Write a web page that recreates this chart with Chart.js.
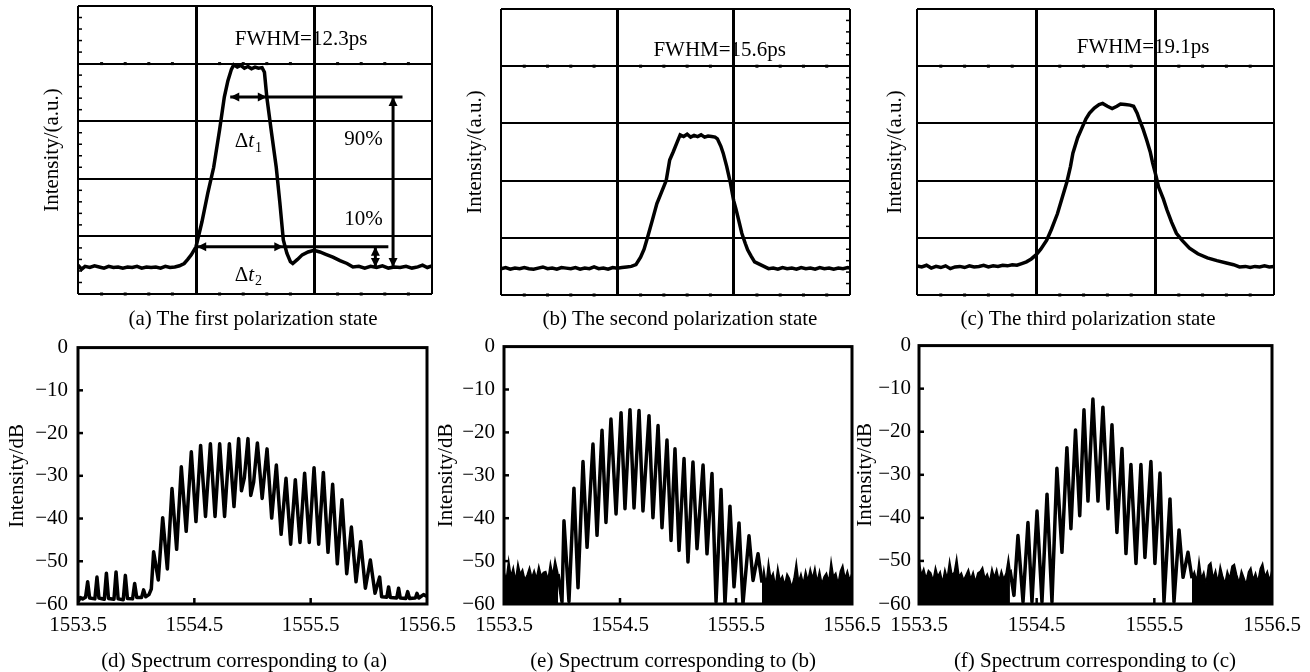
<!DOCTYPE html>
<html>
<head>
<meta charset="utf-8">
<script src="https://cdn.jsdelivr.net/npm/chart.js@4.4.1/dist/chart.umd.min.js"></script>
<style>
  body { margin: 0; background: #fff; }
  #page { position: relative; width: 1310px; height: 672px; overflow: hidden; font-family: "Liberation Serif", "Times New Roman", serif; }
  canvas { position: absolute; }
  .cap { position: absolute; transform: translate(-50%, -50%); white-space: nowrap; font-size: 21px; color: #000; }
</style>
</head>
<body>
<div id="page">
  <canvas id="pa" width="440" height="320" style="left:0px;top:0px"></canvas>
  <canvas id="pb" width="430" height="320" style="left:440px;top:0px"></canvas>
  <canvas id="pc" width="440" height="320" style="left:870px;top:0px"></canvas>
  <canvas id="sd" width="470" height="347" style="left:0px;top:325px"></canvas>
  <canvas id="se" width="460" height="347" style="left:430px;top:325px"></canvas>
  <canvas id="sf" width="460" height="347" style="left:850px;top:325px"></canvas>
  <div class="cap" style="left:253px;top:318px">(a) The first polarization state</div>
  <div class="cap" style="left:680px;top:318px">(b) The second polarization state</div>
  <div class="cap" style="left:1088px;top:318px">(c) The third polarization state</div>
  <div class="cap" style="left:244px;top:660px">(d) Spectrum corresponding to (a)</div>
  <div class="cap" style="left:673px;top:660px">(e) Spectrum corresponding to (b)</div>
  <div class="cap" style="left:1095px;top:660px">(f) Spectrum corresponding to (c)</div>
</div>
<script>
// pulse traces, x in screen divisions (0-3), y in divisions (0-5)
const pulseAX = [0,0.03,0.06,0.1,0.14,0.18,0.22,0.26,0.3,0.34,0.38,0.42,0.46,0.5,0.54,0.58,0.62,0.66,0.7,0.74,
  0.78,0.82,0.86,0.9,0.93,0.96,1.0,1.05,1.1,1.15,1.2,1.24,1.27,1.3,1.32,1.35,1.38,1.41,1.44,1.47,
  1.5,1.53,1.56,1.58,1.6,1.64,1.68,1.71,1.74,1.77,1.8,1.82,1.86,1.9,1.95,2.0,2.05,2.1,2.16,2.22,
  2.28,2.33,2.38,2.43,2.48,2.53,2.58,2.63,2.68,2.73,2.78,2.83,2.88,2.92,2.96,3.0];
const pulseAY = [0.50,0.43,0.48,0.46,0.49,0.47,0.45,0.48,0.46,0.47,0.45,0.47,0.46,0.48,0.45,0.47,0.46,0.47,0.45,0.48,
  0.46,0.47,0.49,0.53,0.6,0.68,0.82,1.25,1.75,2.2,2.85,3.42,3.7,3.9,3.98,3.94,3.97,3.92,3.95,3.91,
  3.94,3.92,3.93,3.85,3.42,2.8,2.2,1.6,0.94,0.71,0.56,0.53,0.6,0.68,0.73,0.76,0.73,0.69,0.64,0.58,
  0.53,0.47,0.48,0.45,0.48,0.46,0.49,0.45,0.47,0.46,0.48,0.45,0.47,0.5,0.46,0.49];

const pulseBX = [0,0.04,0.08,0.12,0.16,0.2,0.24,0.28,0.32,0.36,0.4,0.44,0.48,0.52,0.56,0.6,0.64,0.68,0.72,0.76,
  0.8,0.84,0.88,0.92,0.96,1.0,1.04,1.08,1.12,1.16,1.2,1.23,1.26,1.3,1.34,1.38,1.42,1.45,1.48,1.51,
  1.54,1.57,1.6,1.63,1.66,1.69,1.72,1.75,1.78,1.81,1.84,1.86,1.89,1.91,1.94,1.97,2.0,2.02,2.05,2.07,
  2.1,2.12,2.15,2.18,2.22,2.26,2.3,2.34,2.38,2.42,2.46,2.5,2.54,2.58,2.62,2.66,2.7,2.74,2.78,2.82,
  2.86,2.9,2.94,2.98,3.0];
const pulseBY = [0.46,0.48,0.45,0.47,0.46,0.48,0.46,0.45,0.47,0.49,0.46,0.47,0.45,0.48,0.47,0.46,0.48,0.45,0.47,0.46,
  0.49,0.46,0.47,0.45,0.48,0.47,0.48,0.49,0.5,0.53,0.66,0.8,1.01,1.3,1.6,1.8,2.0,2.36,2.5,2.65,
  2.8,2.77,2.81,2.76,2.79,2.77,2.8,2.76,2.78,2.77,2.76,2.73,2.6,2.48,2.25,1.98,1.65,1.5,1.25,1.08,
  0.9,0.79,0.68,0.58,0.54,0.5,0.46,0.47,0.45,0.48,0.46,0.47,0.45,0.48,0.46,0.47,0.45,0.48,0.46,0.47,
  0.45,0.47,0.46,0.48,0.47];

const pulseCX = [0,0.04,0.08,0.12,0.16,0.2,0.24,0.28,0.32,0.36,0.4,0.44,0.48,0.52,0.56,0.6,0.64,0.68,0.72,0.76,
  0.8,0.84,0.88,0.92,0.96,1.0,1.04,1.09,1.13,1.18,1.22,1.26,1.29,1.31,1.35,1.39,1.42,1.45,1.49,1.53,
  1.56,1.6,1.64,1.68,1.71,1.75,1.79,1.82,1.85,1.87,1.9,1.93,1.96,1.98,2.01,2.03,2.07,2.1,2.14,2.18,
  2.23,2.29,2.36,2.44,2.52,2.6,2.66,2.71,2.76,2.8,2.84,2.88,2.92,2.96,3.0];
const pulseCY = [0.51,0.49,0.52,0.47,0.5,0.48,0.51,0.46,0.49,0.5,0.48,0.51,0.49,0.5,0.52,0.49,0.51,0.5,0.52,0.51,
  0.53,0.52,0.55,0.58,0.63,0.7,0.8,0.96,1.15,1.42,1.7,1.98,2.25,2.48,2.75,2.94,3.08,3.18,3.27,3.33,
  3.35,3.3,3.26,3.3,3.34,3.33,3.32,3.3,3.18,3.06,2.9,2.71,2.5,2.31,2.07,1.89,1.68,1.49,1.27,1.08,
  0.95,0.82,0.72,0.65,0.6,0.56,0.53,0.49,0.5,0.48,0.5,0.49,0.51,0.49,0.5];

// spectra: wavelength (nm) and level (dB)
const specDWl = [1553.50,1553.52,1553.54,1553.565,1553.583,1553.60,1553.645,1553.663,1553.68,1553.726,
  1553.744,1553.762,1553.809,1553.827,1553.845,1553.889,1553.907,1553.925,1553.969,1553.987,
  1554.005,1554.046,1554.064,1554.082,1554.11,1554.13,
  1554.150,1554.19,1554.228,1554.268,1554.308,1554.348,1554.388,1554.43,1554.474,1554.514,
  1554.554,1554.596,1554.638,1554.678,1554.718,1554.76,1554.801,1554.841,1554.881,1554.905,
  1554.93,1554.961,1554.985,1555.01,1555.042,1555.083,1555.125,1555.165,1555.205,1555.246,
  1555.288,1555.328,1555.368,1555.408,1555.448,1555.488,1555.529,1555.569,1555.609,1555.649,
  1555.689,1555.729,1555.769,1555.81,1555.850,1555.89,1555.930,1555.97,1556.013,1556.053,
  1556.093,1556.11,1556.155,1556.170,1556.185,1556.24,1556.256,1556.27,1556.318,1556.334,
  1556.35,1556.40,1556.414,1556.43,1556.47,1556.5];
const specDDb = [-59.5,-58.5,-58.8,-58.4,-54.8,-58.6,-58.8,-53.7,-58.6,-58.9,
  -52.8,-58.7,-58.9,-52.5,-58.8,-59.0,-53.3,-58.7,-58.8,-55.2,
  -58.5,-58.5,-56.7,-58.3,-57.8,-56.5,
  -47.8,-54.4,-39.8,-51.8,-33.0,-47.2,-27.9,-43.0,-24.4,-40.7,
  -22.9,-39.5,-22.5,-39.5,-22.5,-39.5,-22.5,-37.2,-21.3,-33.5,
  -30.5,-21.3,-34.6,-31.5,-22.3,-35.3,-23.7,-39.9,-27.5,-43.7,
  -30.6,-46.0,-30.9,-45.6,-29.4,-45.6,-28.1,-46.0,-29.2,-47.9,
  -32.0,-50.6,-35.6,-52.9,-42.0,-54.8,-45.4,-56.3,-49.7,-57.5,
  -53.7,-58.3,-58.4,-56.0,-58.5,-58.6,-56.3,-58.6,-58.7,-57.1,
  -58.7,-58.6,-57.5,-58.6,-57.8,-58.2];

const specEWl = [1553.966,1554.0,1554.017,1554.06,1554.103,1554.138,1554.181,1554.216,1554.267,1554.302,
  1554.345,1554.379,1554.422,1554.466,1554.509,1554.543,1554.586,1554.621,1554.664,1554.698,
  1554.75,1554.784,1554.828,1554.862,1554.905,1554.94,1554.974,1555.009,1555.052,1555.086,
  1555.129,1555.164,1555.216,1555.25,1555.293,1555.328,1555.371,1555.405,1555.448,1555.483,
  1555.526,1555.56,1555.612,1555.647,1555.69,1555.724];
const specEDb = [-53,-59.5,-40.6,-59.4,-33.0,-56.2,-26.8,-46.8,-22.7,-44.0,
  -19.5,-41.0,-16.9,-39.0,-15.4,-37.8,-14.7,-37.6,-14.9,-38.3,
  -16.1,-39.9,-18.4,-42.2,-21.8,-45.2,-23.8,-47.5,-26.1,-50.2,
  -26.9,-47.1,-27.6,-48.3,-29.6,-59.5,-33.3,-60,-37.2,-56,
  -41.1,-60,-44.1,-54.5,-48.3,-55];
const noiseELeftWl = [1553.50,1553.52,1553.54,1553.56,1553.58,1553.60,1553.62,1553.64,1553.66,1553.68,
  1553.70,1553.72,1553.74,1553.76,1553.78,1553.80,1553.82,1553.84,1553.86,1553.88,
  1553.90,1553.92,1553.94,1553.966];
const noiseELeftDb = [-52.5,-54.2,-49.8,-53.5,-51.5,-54.5,-50.5,-53,-52,-54.3,
  -53.2,-51.5,-53.8,-52.2,-54,-51.2,-53.4,-52.6,-52.4,-54.2,
  -50.5,-53.2,-49.7,-53];
const noiseERightWl = [1555.724,1555.74,1555.76,1555.78,1555.80,1555.82,1555.84,1555.86,1555.88,1555.90,
  1555.92,1555.94,1555.96,1555.98,1556.00,1556.02,1556.04,1556.06,1556.08,1556.10,
  1556.12,1556.14,1556.16,1556.18,1556.20,1556.22,1556.24,1556.26,1556.28,1556.30,
  1556.32,1556.34,1556.36,1556.38,1556.40,1556.42,1556.44,1556.46,1556.48,1556.50];
const noiseERightDb = [-55,-52,-55.5,-50.3,-54,-52.8,-55.8,-51.5,-54.5,-53.5,
  -55.5,-53,-54,-56,-54,-50.3,-54.8,-53,-55.2,-52.3,
  -54.5,-51.8,-54,-51.6,-54.8,-52.3,-55.2,-53.6,-52.8,-54.8,
  -50,-53.6,-52.8,-55.2,-52.3,-51,-54,-52.3,-54.4,-52.8];

const specFWl = [1554.273,1554.307,1554.341,1554.384,1554.426,1554.46,1554.503,1554.545,1554.588,1554.63,
  1554.672,1554.715,1554.757,1554.791,1554.83,1554.866,1554.902,1554.936,1554.978,1555.021,
  1555.063,1555.106,1555.14,1555.182,1555.225,1555.259,1555.301,1555.344,1555.386,1555.42,
  1555.471,1555.505,1555.548,1555.582,1555.633,1555.667,1555.71,1555.744,1555.786,1555.82];
const specFDb = [-52,-58,-44.1,-59.5,-41.1,-59.5,-38.4,-59.5,-34.5,-59.5,
  -28.5,-48.0,-23.7,-42.5,-19.6,-39.5,-14.9,-36.1,-12.4,-36.1,
  -14.3,-37.9,-18.4,-43.4,-23.9,-48.3,-27.6,-50.6,-27.6,-49.2,
  -26.9,-50.6,-29.6,-59.5,-35.6,-59.5,-42.8,-53.8,-48.0,-54];
const noiseFLeftWl = [1553.50,1553.52,1553.54,1553.56,1553.58,1553.60,1553.62,1553.64,1553.66,1553.68,
  1553.70,1553.72,1553.74,1553.76,1553.78,1553.80,1553.82,1553.84,1553.86,1553.88,
  1553.90,1553.92,1553.94,1553.96,1553.98,1554.00,1554.02,1554.04,1554.06,1554.08,
  1554.10,1554.12,1554.14,1554.16,1554.18,1554.20,1554.22,1554.24,1554.26,1554.273];
const noiseFLeftDb = [-49.8,-53.2,-51.8,-54,-52.2,-52.8,-54.5,-51.5,-53.6,-52.5,
  -55,-52,-54,-50,-53.2,-52.6,-49.3,-53.6,-52.8,-54.4,
  -53.2,-52,-54.2,-52.6,-54.8,-52.8,-52.4,-51.5,-54,-53,
  -54.8,-51.8,-53.8,-52,-54.5,-52.3,-54.2,-52.8,-49.3,-52];
const noiseFRightWl = [1555.82,1555.84,1555.86,1555.88,1555.90,1555.92,1555.94,1555.96,1555.98,1556.00,
  1556.02,1556.04,1556.06,1556.08,1556.10,1556.12,1556.14,1556.16,1556.18,1556.20,
  1556.22,1556.24,1556.26,1556.28,1556.30,1556.32,1556.34,1556.36,1556.38,1556.40,
  1556.42,1556.44,1556.46,1556.48,1556.50];
const noiseFRightDb = [-54,-52.5,-54.6,-49.9,-54,-52.6,-55.2,-51,-50.4,-54,
  -52.2,-54.8,-51.2,-53.5,-55.2,-52.4,-54,-51.2,-50.8,-53.2,
  -55,-52.3,-53.8,-55.4,-52.6,-51.6,-54.3,-52.8,-54.8,-51.8,
  -50.6,-53.6,-52.4,-54.5,-52];

const yTicksDb = [-60, -50, -40, -30, -20, -10, 0];
const xTicksNm = [1553.5, 1554.5, 1555.5, 1556.5];

const SERIF = '"Liberation Serif", "Times New Roman", serif';
Chart.defaults.font.family = SERIF;
Chart.defaults.font.size = 21;
Chart.defaults.color = '#000';

function pts(xs, ys) {
  return xs.map((x, i) => ({ x: x, y: ys[i] }));
}

function line(ctx, x1, y1, x2, y2) {
  ctx.beginPath(); ctx.moveTo(x1, y1); ctx.lineTo(x2, y2); ctx.stroke();
}

function head(ctx, x, y, dir) {
  const L = 9, H = 4.5;
  ctx.beginPath();
  ctx.moveTo(x, y);
  if (dir === 'l') { ctx.lineTo(x + L, y - H); ctx.lineTo(x + L, y + H); }
  if (dir === 'r') { ctx.lineTo(x - L, y - H); ctx.lineTo(x - L, y + H); }
  if (dir === 'u') { ctx.lineTo(x - H, y + L); ctx.lineTo(x + H, y + L); }
  if (dir === 'd') { ctx.lineTo(x - H, y - L); ctx.lineTo(x + H, y - L); }
  ctx.closePath(); ctx.fill();
}

function deltaT(ctx, x, y, sub) {
  ctx.textBaseline = 'middle'; ctx.textAlign = 'left';
  ctx.font = '21px ' + SERIF;
  const w1 = ctx.measureText('\u0394').width;
  ctx.font = 'italic 21px ' + SERIF;
  const w2 = ctx.measureText('t').width;
  ctx.font = '14px ' + SERIF;
  const w3 = ctx.measureText(sub).width;
  const x0 = x - (w1 + w2 + w3) / 2;
  ctx.font = '21px ' + SERIF; ctx.fillText('\u0394', x0, y);
  ctx.font = 'italic 21px ' + SERIF; ctx.fillText('t', x0 + w1, y);
  ctx.font = '14px ' + SERIF; ctx.fillText(sub, x0 + w1 + w2 + 1, y + 6);
}

function annotateA(chart) {
  const { ctx, scales: { x, y } } = chart;
  const X = v => x.getPixelForValue(v), Y = v => y.getPixelForValue(v);
  ctx.save();
  ctx.strokeStyle = '#000'; ctx.fillStyle = '#000'; ctx.lineWidth = 3;
  // delta t1 and 90% level
  line(ctx, X(1.29), Y(3.42), X(2.75), Y(3.42));
  head(ctx, X(1.29), Y(3.42), 'l'); head(ctx, X(1.60), Y(3.42), 'r');
  line(ctx, X(2.67), Y(3.42), X(2.67), Y(0.47));
  head(ctx, X(2.67), Y(3.42), 'u'); head(ctx, X(2.67), Y(0.47), 'd');
  // delta t2 and 10% level
  line(ctx, X(1.01), Y(0.82), X(2.63), Y(0.82));
  head(ctx, X(1.01), Y(0.82), 'l'); head(ctx, X(1.74), Y(0.82), 'r');
  line(ctx, X(2.52), Y(0.82), X(2.52), Y(0.47));
  head(ctx, X(2.52), Y(0.82), 'u'); head(ctx, X(2.52), Y(0.47), 'd');
  ctx.font = '21px ' + SERIF; ctx.textAlign = 'center'; ctx.textBaseline = 'middle';
  ctx.fillText('90%', X(2.42), Y(2.68));
  ctx.fillText('10%', X(2.42), Y(1.30));
  deltaT(ctx, X(1.44), Y(2.64), '1');
  deltaT(ctx, X(1.44), Y(0.33), '2');
  ctx.restore();
}

function pulseChart(id, xs, ys, lay, fwhm, edge, extra) {
  const plugin = {
    id: 'scope' + id,
    beforeDraw(chart) {
      const { ctx, scales: { x, y } } = chart;
      ctx.save();
      ctx.font = '21px ' + SERIF; ctx.fillStyle = '#000';
      ctx.textAlign = 'center'; ctx.textBaseline = 'middle';
      ctx.fillText(fwhm.text, x.getPixelForValue(fwhm.x), y.getPixelForValue(fwhm.y));
      ctx.restore();
    },
    beforeDatasetsDraw(chart) {
      const { ctx, chartArea: a, scales: { x, y } } = chart;
      ctx.save(); ctx.fillStyle = '#000';
      for (let i = 1; i < 15; i++) {
        if (i % 5 === 0) continue;
        const px = x.getPixelForValue(i / 5);
        [0, 4].forEach(v => {
          const py = y.getPixelForValue(v);
          ctx.fillRect(px - 1.5, py - 1.5, 3, 3);
        });
      }
      if (edge) {
        ctx.strokeStyle = '#000'; ctx.lineWidth = 1.5;
        const ex = edge === 'left' ? a.left : a.right;
        const d = edge === 'left' ? 4 : -4;
        for (let i = 1; i < 25; i++) {
          if (i % 5 === 0) continue;
          const py = y.getPixelForValue(i / 5);
          line(ctx, ex, py, ex + d, py);
        }
      }
      ctx.restore();
    },
    afterDatasetsDraw(chart) { if (extra) extra(chart); }
  };
  return new Chart(document.getElementById(id), {
    type: 'line',
    data: {
      datasets: [{
        data: pts(xs, ys), borderColor: '#000', borderWidth: 3.5,
        pointRadius: 0, tension: 0, fill: false
      }]
    },
    options: {
      responsive: false, animation: false, devicePixelRatio: 1, events: [],
      layout: { padding: { left: 0, top: lay.top, right: lay.right, bottom: lay.bottom } },
      plugins: { legend: { display: false }, tooltip: { enabled: false } },
      scales: {
        x: {
          type: 'linear', min: 0, max: 3,
          ticks: { display: false, stepSize: 1 },
          grid: { color: '#000', drawTicks: false,
            lineWidth: c => (c.tick && (c.tick.value === 0 || c.tick.value === 3)) ? 2 : 3 },
          border: { display: false },
          afterFit: s => { s.height = 0; }
        },
        y: {
          type: 'linear', min: 0, max: 5,
          ticks: { display: false, stepSize: 1 },
          grid: { color: '#000', lineWidth: 2, drawTicks: false },
          border: { display: false },
          title: { display: true, text: 'Intensity/(a.u.)', font: { size: 21 }, color: '#000',
            padding: { top: lay.titlePad, bottom: 0 } },
          afterFit: s => { s.width = lay.left; }
        }
      }
    },
    plugins: [plugin]
  });
}

function specChart(id, datasets, lay) {
  const plugin = {
    id: 'frame' + id,
    afterDraw(chart) {
      const { ctx, chartArea: a, scales: { x, y } } = chart;
      ctx.save();
      ctx.strokeStyle = '#000'; ctx.lineWidth = 2.5;
      [1554.5, 1555.5].forEach(v => {
        const px = x.getPixelForValue(v);
        line(ctx, px, a.bottom, px, a.bottom - 6);
      });
      [-50, -40, -30, -20, -10].forEach(v => {
        const py = y.getPixelForValue(v);
        line(ctx, a.left, py, a.left + 5, py);
      });
      ctx.lineWidth = 3;
      ctx.strokeRect(a.left, a.top, a.right - a.left, a.bottom - a.top);
      ctx.restore();
    }
  };
  return new Chart(document.getElementById(id), {
    type: 'line',
    data: { datasets: datasets },
    options: {
      responsive: false, animation: false, devicePixelRatio: 1, events: [],
      layout: { padding: { left: 0, top: 18, right: lay.right, bottom: 28 } },
      plugins: { legend: { display: false }, tooltip: { enabled: false } },
      scales: {
        x: {
          type: 'linear', min: xTicksNm[0], max: xTicksNm[xTicksNm.length - 1],
          ticks: { stepSize: 1, padding: 9, maxRotation: 0, autoSkip: false,
            callback: v => Number(v).toFixed(1) },
          grid: { display: false, drawTicks: false },
          border: { display: false },
          afterFit: s => { s.height = 40; }
        },
        y: {
          type: 'linear', min: yTicksDb[0], max: yTicksDb[yTicksDb.length - 1],
          ticks: { stepSize: 10, padding: lay.tickPad,
            callback: v => v === 0 ? '0' : '\u2212' + Math.abs(v) },
          grid: { display: false, drawTicks: false },
          border: { display: false },
          title: { display: true, text: 'Intensity/dB', font: { size: 21 }, color: '#000',
            padding: { top: lay.titlePad, bottom: 0 } },
          afterFit: s => { s.width = lay.left; }
        }
      }
    },
    plugins: [plugin]
  });
}

function comb(xs, ys) {
  return { data: pts(xs, ys), borderColor: '#000', borderWidth: 3.5, pointRadius: 0, tension: 0,
    borderJoinStyle: 'round', fill: false };
}
function noise(xs, ys) {
  return { data: pts(xs, ys), borderColor: '#000', borderWidth: 1.5, pointRadius: 0, tension: 0,
    fill: 'start', backgroundColor: '#000' };
}

pulseChart('pa', pulseAX, pulseAY, { left: 78, top: 6, right: 8, bottom: 26, titlePad: 39.4 },
  { text: 'FWHM=12.3ps', x: 1.89, y: 4.41 }, 'left', annotateA);
pulseChart('pb', pulseBX, pulseBY, { left: 61, top: 9, right: 20, bottom: 25, titlePad: 22.4 },
  { text: 'FWHM=15.6ps', x: 1.88, y: 4.28 }, 'right', null);
pulseChart('pc', pulseCX, pulseCY, { left: 47, top: 9, right: 36, bottom: 25, titlePad: 12.4 },
  { text: 'FWHM=19.1ps', x: 1.9, y: 4.32 }, null, null);

specChart('sd', [comb(specDWl, specDDb)], { left: 78, right: 43, tickPad: 10, titlePad: 4.4 });
specChart('se', [noise(noiseELeftWl, noiseELeftDb), comb(specEWl, specEDb), noise(noiseERightWl, noiseERightDb)],
  { left: 74, right: 38, tickPad: 9, titlePad: 3.4 });
specChart('sf', [noise(noiseFLeftWl, noiseFLeftDb), comb(specFWl, specFDb), noise(noiseFRightWl, noiseFRightDb)],
  { left: 69, right: 38, tickPad: 8, titlePad: 2.4 });
</script>
</body>
</html>
